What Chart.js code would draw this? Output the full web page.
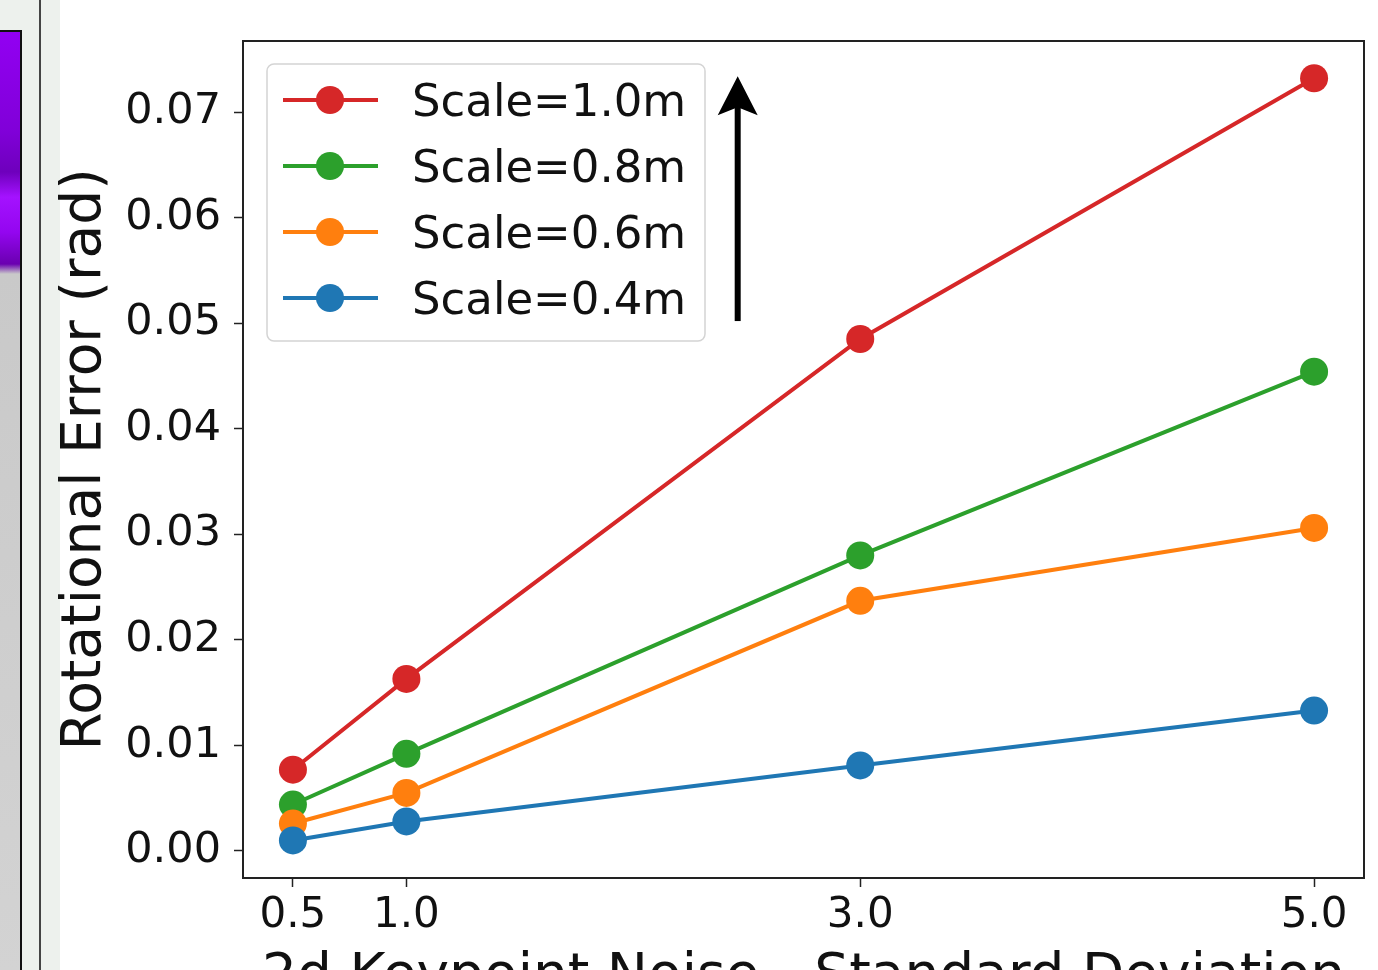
<!DOCTYPE html>
<html>
<head>
<meta charset="utf-8">
<script src="https://cdn.jsdelivr.net/npm/chart.js@4.4.1/dist/chart.umd.min.js"></script>
<style>
  html, body { margin: 0; padding: 0; background: #fff; overflow: hidden; }
  #page { position: relative; width: 1378px; height: 970px; overflow: hidden; background: #fff; }
  #strip { position: absolute; left: 0; top: 0; width: 60px; height: 970px; background: #edf1ed; }
  #thumb {
    position: absolute; left: 0; top: 30px; width: 20px; height: 940px;
    border-top: 2px solid #111; border-right: 2px solid #111;
    background: linear-gradient(to bottom, #9200f2 0px, #8000d8 100px, #6e00bc 140px, #a412ff 165px, #9406f0 200px, #6a00b0 232px, #c9c9c9 242px, #d3d3d3 100%);
  }
  #divider { position: absolute; left: 39px; top: 0; width: 2px; height: 970px; background: #444; }
  #wrap { position: absolute; left: 0; top: 0; width: 1378px; height: 1016px; }
</style>
</head>
<body>
<div id="page">
  <div id="strip"></div>
  <div id="thumb"></div>
  <div id="divider"></div>
  <div id="wrap"><canvas id="errChart" width="1378" height="1016"></canvas></div>
</div>
<script>
// noise std (px) on the x axis
const noiseStd = [0.5, 1.0, 3.0, 5.0];
const xTickValues = [0.5, 1.0, 3.0, 5.0];
const yTickValues = [0.00, 0.01, 0.02, 0.03, 0.04, 0.05, 0.06, 0.07];

const seriesLabels = ['Scale=1.0m', 'Scale=0.8m', 'Scale=0.6m', 'Scale=0.4m'];
const scale10 = [0.0077, 0.0163, 0.0485, 0.0732];
const scale08 = [0.0044, 0.0092, 0.0280, 0.0454];
const scale06 = [0.0026, 0.0055, 0.0237, 0.0306];
const scale04 = [0.0010, 0.0028, 0.0081, 0.0133];
const seriesColors = ['#d62728', '#2ca02c', '#ff7f0e', '#1f77b4'];

// arrow annotation, in data units
const arrowX = 2.46;
const arrowFrom = 0.0502;
const arrowTo = 0.0734;

const FONT = "'DejaVu Sans', sans-serif";

const allSeries = [scale10, scale08, scale06, scale04];
const datasets = allSeries.map((vals, i) => ({
    label: seriesLabels[i],
    data: noiseStd.map((x, j) => ({ x: x, y: vals[j] })),
    borderColor: seriesColors[i],
    backgroundColor: seriesColors[i],
    borderWidth: 4,
    pointRadius: 14,
    pointHoverRadius: 14,
    pointBorderWidth: 0,
    order: allSeries.length - 1 - i,
    tension: 0
}));

const framePlugin = {
    id: 'frame',
    afterDraw(chart) {
        const { ctx, chartArea: a } = chart;
        ctx.save();
        ctx.strokeStyle = '#222';
        ctx.lineWidth = 2;
        ctx.strokeRect(a.left, a.top, a.right - a.left, a.bottom - a.top);
        ctx.restore();
    }
};

const arrowPlugin = {
    id: 'arrow',
    afterDraw(chart) {
        const { ctx } = chart;
        const x = chart.scales.x.getPixelForValue(arrowX);
        const y0 = chart.scales.y.getPixelForValue(arrowFrom);
        const y1 = chart.scales.y.getPixelForValue(arrowTo);
        ctx.save();
        ctx.fillStyle = '#000';
        ctx.fillRect(x - 3, y1 + 20, 6, y0 - y1 - 20);
        ctx.beginPath();
        ctx.moveTo(x, y1);
        ctx.lineTo(x - 20, y1 + 39);
        ctx.lineTo(x, y1 + 31);
        ctx.lineTo(x + 20, y1 + 39);
        ctx.closePath();
        ctx.fill();
        ctx.restore();
    }
};

const legendPlugin = {
    id: 'boxLegend',
    afterDraw(chart) {
        const { ctx, chartArea: a } = chart;
        const bx = a.left + 24, by = a.top + 23, bw = 438, bh = 277;
        ctx.save();
        ctx.beginPath();
        ctx.roundRect(bx, by, bw, bh, 7);
        ctx.fillStyle = 'rgba(255,255,255,0.85)';
        ctx.fill();
        ctx.strokeStyle = '#d4d4d4';
        ctx.lineWidth = 1.5;
        ctx.stroke();
        ctx.font = '45px ' + FONT;
        ctx.textBaseline = 'alphabetic';
        ctx.textAlign = 'left';
        chart.data.datasets.forEach((ds, i) => {
            const cy = by + 36 + i * 66;
            ctx.strokeStyle = ds.borderColor;
            ctx.lineWidth = 4;
            ctx.beginPath();
            ctx.moveTo(bx + 16, cy);
            ctx.lineTo(bx + 111, cy);
            ctx.stroke();
            ctx.fillStyle = ds.backgroundColor;
            ctx.beginPath();
            ctx.arc(bx + 63, cy, 14, 0, Math.PI * 2);
            ctx.fill();
            ctx.fillStyle = '#111';
            ctx.fillText(ds.label, bx + 145, cy + 16);
        });
        ctx.restore();
    }
};

new Chart(document.getElementById('errChart'), {
    type: 'line',
    data: { datasets: datasets },
    options: {
        responsive: false,
        animation: false,
        layout: { padding: { top: 41, right: 12, bottom: 0, left: 0 } },
        plugins: {
            legend: { display: false },
            tooltip: { enabled: false }
        },
        scales: {
            x: {
                type: 'linear',
                min: 0.28,
                max: 5.22,
                afterBuildTicks(s) { s.ticks = xTickValues.map(v => ({ value: v })); },
                afterFit(s) { s.height = 138; },
                grid: { drawOnChartArea: false, drawTicks: true, tickLength: 9, tickColor: '#222', tickWidth: 1.5 },
                border: { display: true, color: '#222', width: 2 },
                ticks: {
                    color: '#111',
                    font: { family: FONT, size: 42 },
                    padding: 4,
                    maxRotation: 0,
                    autoSkip: false,
                    callback: v => Number(v).toFixed(1)
                },
                title: {
                    display: true,
                    text: '2d Keypoint Noise - Standard Deviation',
                    color: '#111',
                    font: { family: FONT, size: 55 },
                    padding: { top: 0, bottom: 5 }
                }
            },
            y: {
                type: 'linear',
                min: -0.00256,
                max: 0.07673,
                afterBuildTicks(s) { s.ticks = yTickValues.map(v => ({ value: v })); },
                afterFit(s) { s.width = 243; },
                grid: { drawOnChartArea: false, drawTicks: true, tickLength: 9, tickColor: '#222', tickWidth: 1.5 },
                border: { display: true, color: '#222', width: 2 },
                ticks: {
                    color: '#111',
                    font: { family: FONT, size: 43 },
                    padding: 13,
                    autoSkip: false,
                    callback: v => Number(v).toFixed(2)
                },
                title: {
                    display: true,
                    text: 'Rotational Error (rad)',
                    color: '#111',
                    font: { family: FONT, size: 55 },
                    padding: { top: 53, bottom: 0 }
                }
            }
        }
    },
    plugins: [framePlugin, arrowPlugin, legendPlugin]
});
</script>
</body>
</html>
